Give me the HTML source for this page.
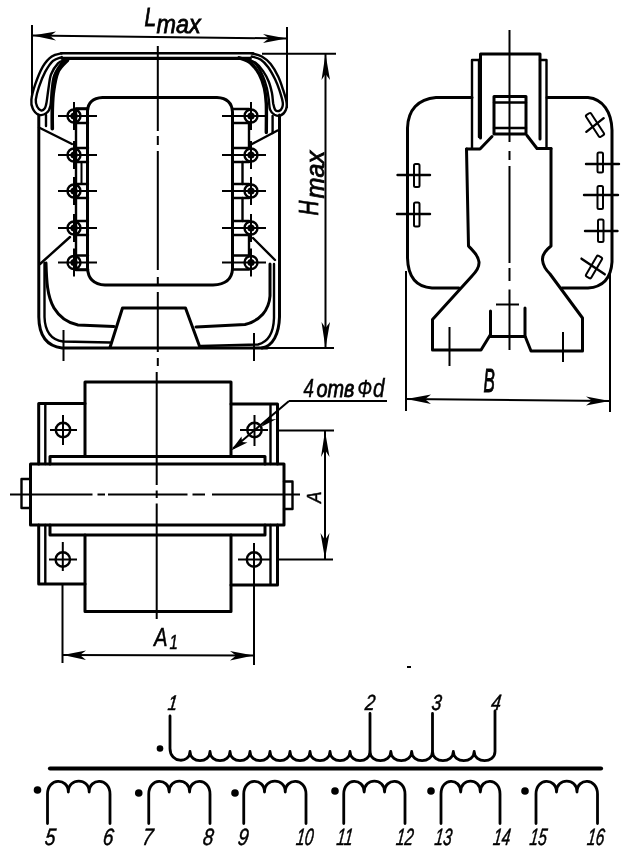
<!DOCTYPE html>
<html lang="ru">
<head>
<meta charset="utf-8">
<title>Трансформатор — габаритный чертёж и схема</title>
<style>
html,body{margin:0;padding:0;background:#fff;}
body{width:640px;height:867px;overflow:hidden;}
svg{display:block;filter:blur(0.45px);}
.k{fill:none;stroke:#000;stroke-width:3.0;stroke-linecap:round;stroke-linejoin:round;}
.m{fill:none;stroke:#000;stroke-width:2.4;stroke-linecap:round;stroke-linejoin:round;}
.t{fill:none;stroke:#000;stroke-width:2.0;stroke-linecap:butt;}
.c{fill:none;stroke:#000;stroke-width:2.0;}
.w{fill:none;stroke:#000;stroke-width:2.8;stroke-linecap:round;stroke-linejoin:round;}
.a{fill:#000;stroke:none;}
text{font-family:"Liberation Sans",sans-serif;font-style:italic;fill:#000;stroke:#000;stroke-width:0.5;}
</style>
</head>
<body>
<svg width="640" height="867" viewBox="0 0 640 867">
<rect x="0" y="0" width="640" height="867" fill="#fff"/>

<!-- ================= FRONT VIEW ================= -->
<g id="front">
<!-- Lmax dimension -->
<line class="t" x1="32" y1="25" x2="32" y2="96"/>
<line class="t" x1="287" y1="27" x2="287" y2="108"/>
<line class="t" x1="32" y1="35.5" x2="287" y2="38.5"/>
<path class="a" d="M32.5 35.5 L56 31.5 L50 36 L56 40.5 Z"/>
<path class="a" d="M286.5 38.5 L263 34 L269 38.3 L263 43 Z"/>
<text font-size="26" style="stroke-width:0.8" transform="translate(144.5 26.3) scale(0.8 1)">L</text>
<text font-size="26" style="stroke-width:0.8" transform="translate(156.5 32.7) scale(0.9 1)">max</text>

<!-- Hmax dimension -->
<line class="t" x1="262" y1="53.8" x2="336" y2="53.8"/>
<line class="t" x1="200" y1="348" x2="334" y2="348"/>
<line class="t" x1="325.5" y1="54" x2="325.5" y2="348"/>
<path class="a" d="M325.5 54 L321.5 80 L325.5 74 L330 80 Z"/>
<path class="a" d="M325.5 348 L321.5 322 L325.5 328 L330 322 Z"/>
<text font-size="28" style="stroke-width:0.8" transform="translate(318.3 215.5) rotate(-90) scale(0.74 1)">H</text>
<text font-size="26" style="stroke-width:0.8" transform="translate(324.3 198.5) rotate(-90) scale(0.97 1)">max</text>

<!-- centre line (front + plan) -->
<path class="c" d="M157.8 46 L157.8 131 M157.8 136 L157.8 145 M157.8 151 L157.8 270 M157.8 277 L157.8 286 M157.8 292 L157.8 352 M157.8 358 L157.8 366"/>

<!-- outer frame -->
<path class="m" d="M61 53.3 L253 53.3"/>
<path class="k" style="stroke-width:3.3" d="M62 58.3 L250 58.3"/>
<path class="k" d="M38.8 115 L38.8 317 C39 334 46 346 62 348 L267 348"/>
<path class="k" d="M279.5 115 L279.5 317 C279 334 273 346 262 348"/>
<!-- left hairpin clamp -->
<path class="m" d="M61.8 53.3 C60.1 53.8 54.9 54.3 51.7 56.5 C48.5 58.7 45.6 62.0 42.8 66.6 C40.1 71.3 37.1 78.9 35.2 84.4 C33.3 89.9 31.8 95.6 31.4 99.6 C31.0 103.6 31.4 105.9 32.7 108.4 C33.9 111.0 36.7 114.0 39.0 114.8 C41.3 115.5 44.7 114.4 46.6 112.9 C48.5 111.4 49.6 109.6 50.4 105.9 C51.3 102.2 51.1 95.8 51.7 90.7 C52.3 85.6 52.5 80.1 54.2 75.5 C55.9 70.8 59.9 65.3 61.8 62.8 C63.7 60.3 65.0 60.7 65.6 60.3"/>
<path class="m" d="M61.8 57.1 C60.3 57.7 55.7 58.5 53.0 60.9 C50.2 63.3 47.7 67.4 45.3 71.7 C43.0 76.0 40.6 82.2 39.0 86.9 C37.4 91.5 36.2 96.3 35.8 99.6 C35.5 102.8 36.3 104.7 37.1 106.5 C38.0 108.3 39.6 110.0 40.9 110.3 C42.2 110.7 43.8 109.8 44.7 108.4 C45.7 107.1 46.0 105.5 46.6 102.1 C47.2 98.7 47.8 92.8 48.5 88.2 C49.3 83.5 49.5 78.3 51.1 74.2 C52.6 70.1 55.8 65.8 58.0 63.4 C60.2 61.1 63.3 60.8 64.4 60.3"/>
<path class="k" style="stroke-width:3.6" d="M67.5 60.3 C65.9 62.2 60.3 66.6 58.0 71.7 C55.7 76.8 54.5 84.4 53.6 90.7 C52.6 97.0 52.5 103.4 52.3 109.7 C52.1 116.0 52.3 125.6 52.3 128.7"/>
<path class="m" d="M46 115 L46 126"/>
<!-- right hairpin clamp -->
<path class="m" d="M251.7 53.3 C253.4 53.8 258.7 54.7 261.8 56.5 C265.0 58.3 268.0 60.7 270.7 64.1 C273.4 67.5 276.2 72.3 278.3 76.8 C280.4 81.2 282.0 86.5 283.4 90.7 C284.7 94.9 286.1 98.9 286.5 102.1 C287.0 105.3 286.9 107.5 285.9 109.7 C285.0 111.9 282.7 114.6 280.8 115.4 C278.9 116.3 276.3 115.7 274.5 114.8 C272.7 113.8 271.0 112.2 270.1 109.7 C269.1 107.2 269.3 103.2 268.8 99.6 C268.3 96.0 267.8 92.0 266.9 88.2 C265.9 84.4 264.8 80.6 263.1 76.8 C261.4 73.0 259.1 68.3 256.8 65.3 C254.4 62.4 250.4 60.1 249.2 59.0"/>
<path class="m" d="M251.7 56.5 C253.2 57.0 257.8 57.8 260.6 59.6 C263.3 61.4 265.7 64.0 268.2 67.2 C270.6 70.5 273.2 75.4 275.1 79.3 C277.0 83.2 278.3 86.9 279.6 90.7 C280.8 94.5 282.3 99.3 282.7 102.1 C283.2 105.0 282.7 106.3 282.1 107.8 C281.5 109.3 280.1 110.7 278.9 111.0 C277.8 111.3 276.1 111.0 275.1 109.7 C274.2 108.4 273.8 106.1 273.2 103.4 C272.7 100.6 272.7 96.8 272.0 93.2 C271.2 89.6 270.3 85.5 268.8 81.8 C267.3 78.1 265.3 74.2 263.1 71.1 C260.9 67.9 258.0 64.6 255.5 62.8 C253.0 61.0 249.2 60.7 247.9 60.3"/>
<path class="k" style="stroke-width:3.4" d="M239.0 57.7 C240.9 58.6 247.0 60.1 250.4 62.8 C253.8 65.6 257.0 70.0 259.3 74.2 C261.6 78.4 263.2 83.3 264.4 88.2 C265.5 93.0 265.9 96.0 266.3 103.4 C266.6 110.8 266.3 127.7 266.3 132.5"/>
<path class="m" d="M272.6 116 L272.6 133"/>
<!-- diagonals -->
<path class="m" d="M39 127.5 L72 144"/>
<path class="m" d="M277.5 130.5 L252 144"/>
<path class="m" d="M40 264 L70 237"/>
<path class="m" d="M275 260 L253 238"/>
<!-- inner bracket curves bottom -->
<path class="m" d="M44.5 263 L44.5 317 C45 333 52 340 63 341.5 L110 342.5"/>
<path class="k" d="M46 263 C46.5 280 47 296 54 308 C60 318 68 323 78 325 L114 326.5"/>
<path class="m" d="M274 264 L274 318 C273.5 333 268 342 258 344.5 L201 346"/>
<path class="k" d="M270 264 L270 296 C269 310 260 321 245 324.5 L196 327"/>
<!-- trapezoid -->
<path class="k" d="M110 347.5 L122.5 308 L185.5 308 L200 347.5"/>
<!-- inner window -->
<path class="k" d="M102.5 97.5 L217 97.5 C227 98 232 103 232.5 112 L232.5 269 C232 279 225 284.5 213 285 L105 285 C94 284.5 88 279 87.5 268 L87.5 111 C88 102 93 98 102.5 97.5 Z"/>
<!-- terminal strips -->
<path class="m" d="M76 108.5 L87.5 108.5 M76 108.5 L76 270 M76 270 L87.5 270"/>
<path class="t" d="M81.5 162 L81.5 184"/>
<path class="m" d="M249 123 L249 148 M242.5 162 L242.5 184 M242.5 198 L242.5 221 M249 235 L249 256"/>

<!-- BOTTOM TICKS -->
<line class="t" x1="63.5" y1="330" x2="63.5" y2="361"/>
<line class="t" x1="254" y1="333" x2="254" y2="361"/>
<circle class="m" cx="74" cy="116" r="6.5"/><circle class="a" cx="74" cy="116" r="3.6"/>
<line class="t" x1="58" y1="116" x2="97" y2="116"/><line class="t" x1="74" y1="102" x2="74" y2="130"/>
<path class="m" d="M76 109 L88 109 M76 123 L88 123"/>
<circle class="m" cx="251" cy="116" r="6.5"/><circle class="a" cx="251" cy="116" r="3.6"/>
<line class="t" x1="222" y1="116" x2="266" y2="116"/><line class="t" x1="251" y1="102" x2="251" y2="130"/>
<path class="m" d="M233 109 L249 109 M233 123 L249 123"/>
<circle class="m" cx="74" cy="155" r="6.5"/><circle class="a" cx="74" cy="155" r="3.6"/>
<line class="t" x1="58" y1="155" x2="97" y2="155"/><line class="t" x1="74" y1="141" x2="74" y2="169"/>
<path class="m" d="M76 148 L88 148 M76 162 L88 162"/>
<circle class="m" cx="251" cy="155" r="6.5"/><circle class="a" cx="251" cy="155" r="3.6"/>
<line class="t" x1="222" y1="155" x2="266" y2="155"/><line class="t" x1="251" y1="141" x2="251" y2="169"/>
<path class="m" d="M233 148 L249 148 M233 162 L249 162"/>
<circle class="m" cx="74" cy="191" r="6.5"/><circle class="a" cx="74" cy="191" r="3.6"/>
<line class="t" x1="58" y1="191" x2="97" y2="191"/><line class="t" x1="74" y1="177" x2="74" y2="205"/>
<path class="m" d="M76 184 L88 184 M76 198 L88 198"/>
<circle class="m" cx="251" cy="191" r="6.5"/><circle class="a" cx="251" cy="191" r="3.6"/>
<line class="t" x1="222" y1="191" x2="266" y2="191"/><line class="t" x1="251" y1="177" x2="251" y2="205"/>
<path class="m" d="M233 184 L249 184 M233 198 L249 198"/>
<circle class="m" cx="74" cy="228" r="6.5"/><circle class="a" cx="74" cy="228" r="3.6"/>
<line class="t" x1="58" y1="228" x2="97" y2="228"/><line class="t" x1="74" y1="214" x2="74" y2="242"/>
<path class="m" d="M76 221 L88 221 M76 235 L88 235"/>
<circle class="m" cx="251" cy="228" r="6.5"/><circle class="a" cx="251" cy="228" r="3.6"/>
<line class="t" x1="222" y1="228" x2="266" y2="228"/><line class="t" x1="251" y1="214" x2="251" y2="242"/>
<path class="m" d="M233 221 L249 221 M233 235 L249 235"/>
<circle class="m" cx="74" cy="262.5" r="6.5"/><circle class="a" cx="74" cy="262.5" r="3.6"/>
<line class="t" x1="58" y1="262.5" x2="97" y2="262.5"/><line class="t" x1="74" y1="248.5" x2="74" y2="276.5"/>
<path class="m" d="M76 255.5 L88 255.5 M76 269.5 L88 269.5"/>
<circle class="m" cx="251" cy="262.5" r="6.5"/><circle class="a" cx="251" cy="262.5" r="3.6"/>
<line class="t" x1="222" y1="262.5" x2="266" y2="262.5"/><line class="t" x1="251" y1="248.5" x2="251" y2="276.5"/>
<path class="m" d="M233 255.5 L249 255.5 M233 269.5 L249 269.5"/>

</g>

<!-- ================= SIDE VIEW ================= -->
<g id="side">
<!-- centre line -->
<path class="c" d="M509.5 30 L509.5 142 M509.5 151 L509.5 160 M509.5 166 L509.5 263 M509.5 268 L509.5 281 M509.5 289.5 L509.5 350"/>
<!-- coil outline left part -->
<path class="k" d="M472 97.5 L436 97.5 C418 99 408 110 407.5 128 L407.5 258 C408 276 416 287 432 288 L459 288"/>
<!-- coil outline right part -->
<path class="k" d="M547 97.5 L588 97.5 C603 99 611.5 112 612 130 L612 262 C611 278 603 287 588 288 L562 288"/>
<!-- top cap -->
<path class="k" d="M480.5 138 L480.5 54 L540 54 L540 139"/>
<path class="m" d="M479 60 L472 60 L472 148 M540 60 L546.5 60 L546.5 148"/>
<path class="m" d="M479 60 L479 137"/>
<!-- inner slot -->
<path class="k" d="M494 96.5 L526 96.5 L526 134 L494 134 Z"/>
<path class="m" d="M494 102.5 L526 102.5 M494 128 L526 128"/>
<!-- chamfers -->
<path class="k" d="M492 136.5 L480 149 L466.5 149"/>
<path class="k" d="M527 135.5 L537 148.5 L551 148.5"/>
<!-- body sides -->
<path class="k" d="M466.5 149 L468.5 246 C472 250 478 254 479 262 C479.5 268 476 272 472 276 L432.5 319.5 L432.5 350 L481 350 L490.5 334.5 L490.5 311"/>
<path class="k" d="M551 148.5 L551 246 C546 250 542 254 542.5 260 C543 266 546 270 550 274 L582.5 318 L582.5 351 L531 351 L525 336 L525 308"/>
<path class="k" d="M490.5 336.5 L525 336.5"/>
<line class="t" x1="496" y1="304.5" x2="519" y2="304.5"/>
<line class="t" x1="449.5" y1="327" x2="449.5" y2="366"/>
<line class="t" x1="563" y1="332" x2="563" y2="362"/>
<!-- left terminals -->
<rect class="t" x="414" y="164" width="5.5" height="23" rx="1.5"/>
<line class="m" x1="397.5" y1="175" x2="430" y2="175"/>
<rect class="t" x="414" y="202.5" width="5.5" height="24" rx="1.5"/>
<line class="m" x1="397" y1="214" x2="430" y2="214"/>
<!-- right terminals -->
<g transform="translate(595 125) rotate(-33)"><rect class="t" x="-3" y="-13" width="6" height="26" rx="1.5"/><line class="m" x1="-11" y1="1" x2="11" y2="-1"/></g>
<rect class="t" x="597.5" y="152.5" width="5.5" height="20" rx="1.5"/>
<line class="m" x1="586" y1="164" x2="619" y2="164"/>
<rect class="t" x="597.5" y="186" width="5.5" height="23" rx="1.5"/>
<line class="m" x1="584" y1="195" x2="618" y2="195"/>
<rect class="t" x="598" y="219.5" width="5.5" height="22.5" rx="1.5"/>
<line class="m" x1="585" y1="231" x2="617.5" y2="231"/>
<g transform="translate(594 267) rotate(30)"><rect class="t" x="-3" y="-12" width="6" height="24" rx="1.5"/><line class="m" x1="-15" y1="-1" x2="13" y2="1"/></g>
<!-- B dimension -->
<line class="t" x1="406" y1="271" x2="406" y2="411"/>
<line class="t" x1="610" y1="271" x2="610" y2="412"/>
<line class="t" x1="406" y1="399" x2="610" y2="401"/>
<path class="a" d="M406.5 399 L431 394.5 L425 399.2 L431 404 Z"/>
<path class="a" d="M609.5 401 L586 396.5 L592 400.8 L586 405.5 Z"/>
<text font-size="34" style="stroke-width:1" transform="translate(483.5 392) scale(0.5 1)">B</text>

</g>

<!-- ================= PLAN VIEW ================= -->
<g id="plan">
<!-- centre lines -->
<path class="c" d="M156.7 372 L156.7 485 M156.7 490.5 L156.7 498 M156.7 503.5 L156.7 619"/>
<path class="c" d="M10 494.5 L92.5 494.5 M97.5 494.5 L105 494.5 M108 494.5 L187.5 494.5 M192.5 494.5 L205 494.5 M212 494.5 L300 494.5"/>
<!-- coil -->
<path class="k" d="M85 455 L85 382 L231 382 L231 455"/>
<path class="k" d="M85 535 L85 611.5 L231 611.5 L231 535"/>
<!-- flanges top -->
<path class="k" d="M85 403.5 L38.7 403.5 L38.7 464"/>
<path class="m" d="M45.3 405 L45.3 464"/>
<path class="k" d="M231 404 L277.5 404 L277.5 464"/>
<path class="m" d="M270.5 405 L270.5 464"/>
<!-- flanges bottom -->
<path class="k" d="M38.7 525 L38.7 584 L85 584"/>
<path class="m" d="M45.3 525 L45.3 583"/>
<path class="k" d="M277.5 525 L277.5 585 L231 585"/>
<path class="m" d="M270.5 525 L270.5 584"/>
<!-- core plates -->
<path class="k" d="M50 464 L50 456.5 L265 456.5 L265 464"/>
<path class="k" d="M50 525 L50 535 L265 535 L265 525"/>
<!-- core -->
<rect class="k" x="30.5" y="464" width="253.5" height="61"/>
<!-- bolt ends -->
<path class="m" d="M30 479 L21.5 479 L21.5 508 L30 508"/>
<path class="m" d="M284 481.5 L292.5 481.5 L292.5 509 L284 509"/>
<!-- holes -->
<circle class="m" cx="63" cy="430" r="7.2"/>
<line class="t" x1="50" y1="430" x2="77" y2="430"/><line class="t" x1="63" y1="415" x2="63" y2="445"/>
<circle class="m" cx="254.5" cy="430" r="7.2"/>
<line class="t" x1="240" y1="430" x2="268" y2="430"/><line class="t" x1="254.5" y1="415" x2="254.5" y2="446"/>
<circle class="m" cx="62.8" cy="559.5" r="7.2"/>
<line class="t" x1="49" y1="559.5" x2="77" y2="559.5"/><line class="t" x1="62.8" y1="542" x2="62.8" y2="571"/>
<circle class="m" cx="254" cy="559.5" r="7.2"/>
<line class="t" x1="238" y1="559.5" x2="270" y2="559.5"/>
<!-- A1 dimension -->
<line class="t" x1="62.5" y1="584" x2="62.5" y2="663"/>
<line class="t" x1="254" y1="543" x2="254" y2="665"/>
<line class="t" x1="62.5" y1="655" x2="254" y2="655.5"/>
<path class="a" d="M63 655 L86 650.5 L80 655 L86 660 Z"/>
<path class="a" d="M253.5 655.5 L230 651 L236 655.5 L230 660.5 Z"/>
<text font-size="26" transform="translate(154 646) scale(0.78 1)">A</text>
<text font-size="20" transform="translate(169.5 649) scale(0.75 1)">1</text>
<!-- A dimension -->
<line class="t" x1="277" y1="430.5" x2="334" y2="430.5"/>
<line class="t" x1="277" y1="559.5" x2="333" y2="559.5"/>
<line class="t" x1="325" y1="431" x2="325" y2="559"/>
<path class="a" d="M325 431 L321 457 L325 450 L329.5 457 Z"/>
<path class="a" d="M325 559 L320.5 533 L325 540 L329.5 533 Z"/>
<text font-size="20" transform="translate(321 503) rotate(-90) scale(0.85 1)">A</text>
<!-- leader "4 отв Фd" -->
<path class="t" d="M289 401 L387 401 M289 401 L233 448.5"/>
<path class="a" d="M231 450.5 L241.5 436.5 L242 442 L247.5 442.5 Z"/>
<path class="a" d="M261 427 L270.5 414.5 L271.5 419.5 L276.5 419 Z"/>
<text font-size="26" transform="translate(303.5 396.5) scale(0.72 1)">4</text>
<text font-size="24" style="stroke-width:0.8" x="316.5" y="396.5" textLength="38" lengthAdjust="spacingAndGlyphs">отв</text>
<text font-size="24" x="357.5" y="396.5" textLength="14.5" lengthAdjust="spacingAndGlyphs">Ф</text>
<text font-size="25" x="373" y="396.5" textLength="11.5" lengthAdjust="spacingAndGlyphs">d</text>
</g>

<!-- ================= SCHEMATIC ================= -->
<g id="schem">
<line x1="50" y1="768.5" x2="601" y2="768.5" stroke="#000" stroke-width="4.2" stroke-linecap="round"/>
<path class="w" d="M170 716 L170 748.5 C170.00 763.60 190.00 763.60 190.00 751.50 C190.00 763.60 210.00 763.60 210.00 751.50 C210.00 763.60 230.00 763.60 230.00 751.50 C230.00 763.60 250.00 763.60 250.00 751.50 C250.00 763.60 270.00 763.60 270.00 751.50 C270.00 763.60 290.00 763.60 290.00 751.50 C290.00 763.60 310.00 763.60 310.00 751.50 C310.00 763.60 330.00 763.60 330.00 751.50 C330.00 763.60 350.00 763.60 350.00 751.50 C350.00 763.60 370.00 763.60 370.00 751.50 C370.00 763.60 390.83 763.60 390.83 751.50 C390.83 763.60 411.67 763.60 411.67 751.50 C411.67 763.60 432.50 763.60 432.50 751.50 C432.50 763.60 453.33 763.60 453.33 751.50 C453.33 763.60 474.17 763.60 474.17 751.50 C474.17 763.60 495.00 763.60 495.00 751.50 L495 748.5 L495 711"/>
<path class="w" d="M370 713.5 L370 751 M432.5 713.5 L432.5 751"/>
<circle class="a" cx="160" cy="748.5" r="3.3"/>
<path class="w" d="M47.5 823.5 L47.5 794.0 C47.50 777.50 68.33 777.50 68.33 792.00 C68.33 777.50 89.17 777.50 89.17 792.00 C89.17 777.50 110.00 777.50 110.00 794.00 L110 823.5"/>
<circle class="a" cx="37.5" cy="790" r="3.8"/>
<path class="w" d="M148.75 823.5 L148.75 794.0 C148.75 777.50 169.17 777.50 169.17 792.00 C169.17 777.50 189.58 777.50 189.58 792.00 C189.58 777.50 210.00 777.50 210.00 794.00 L210 823.5"/>
<circle class="a" cx="138.75" cy="793" r="3.8"/>
<path class="w" d="M243.75 823.5 L243.75 794.0 C243.75 777.50 264.50 777.50 264.50 792.00 C264.50 777.50 285.25 777.50 285.25 792.00 C285.25 777.50 306.00 777.50 306.00 794.00 L306 823.5"/>
<circle class="a" cx="235" cy="793" r="3.8"/>
<path class="w" d="M343.75 823.5 L343.75 794.0 C343.75 777.50 364.17 777.50 364.17 792.00 C364.17 777.50 384.58 777.50 384.58 792.00 C384.58 777.50 405.00 777.50 405.00 794.00 L405 823.5"/>
<circle class="a" cx="335" cy="791" r="3.8"/>
<path class="w" d="M441 823.5 L441 794.0 C441.00 777.50 460.67 777.50 460.67 792.00 C460.67 777.50 480.33 777.50 480.33 792.00 C480.33 777.50 500.00 777.50 500.00 794.00 L500 823.5"/>
<circle class="a" cx="431" cy="791" r="3.8"/>
<path class="w" d="M536 823.5 L536 794.0 C536.00 777.50 556.50 777.50 556.50 792.00 C556.50 777.50 577.00 777.50 577.00 792.00 C577.00 777.50 597.50 777.50 597.50 794.00 L597.5 823.5"/>
<circle class="a" cx="525" cy="791" r="3.8"/>
<text font-size="21" text-anchor="middle" transform="translate(172 709.5) skewX(-7) scale(0.8 1)">1</text>
<text font-size="22" text-anchor="middle" transform="translate(369.5 709.5) skewX(-7) scale(0.8 1)">2</text>
<text font-size="22" text-anchor="middle" transform="translate(436 709.5) skewX(-7) scale(0.8 1)">3</text>
<text font-size="22" text-anchor="middle" transform="translate(495.5 709.5) skewX(-7) scale(0.8 1)">4</text>
<text font-size="23.5" text-anchor="middle" transform="translate(49.5 845) skewX(-7) scale(0.8 1)">5</text>
<text font-size="23.5" text-anchor="middle" transform="translate(107.5 845) skewX(-7) scale(0.8 1)">6</text>
<text font-size="23.5" text-anchor="middle" transform="translate(147 845) skewX(-7) scale(0.8 1)">7</text>
<text font-size="23.5" text-anchor="middle" transform="translate(207.5 845) skewX(-7) scale(0.8 1)">8</text>
<text font-size="23.5" text-anchor="middle" transform="translate(242.5 845) skewX(-7) scale(0.8 1)">9</text>
<text font-size="23.5" text-anchor="middle" transform="translate(304 845) skewX(-7) scale(0.66 1)">10</text>
<text font-size="23.5" text-anchor="middle" transform="translate(344 845) skewX(-7) scale(0.66 1)">11</text>
<text font-size="23.5" text-anchor="middle" transform="translate(404 845) skewX(-7) scale(0.66 1)">12</text>
<text font-size="23.5" text-anchor="middle" transform="translate(442.5 845) skewX(-7) scale(0.66 1)">13</text>
<text font-size="23.5" text-anchor="middle" transform="translate(501 845) skewX(-7) scale(0.66 1)">14</text>
<text font-size="23.5" text-anchor="middle" transform="translate(537.5 845) skewX(-7) scale(0.66 1)">15</text>
<text font-size="23.5" text-anchor="middle" transform="translate(595 845) skewX(-7) scale(0.66 1)">16</text>
<line class="t" x1="407" y1="667" x2="411" y2="667"/>

</g>
</svg>
</body>
</html>
